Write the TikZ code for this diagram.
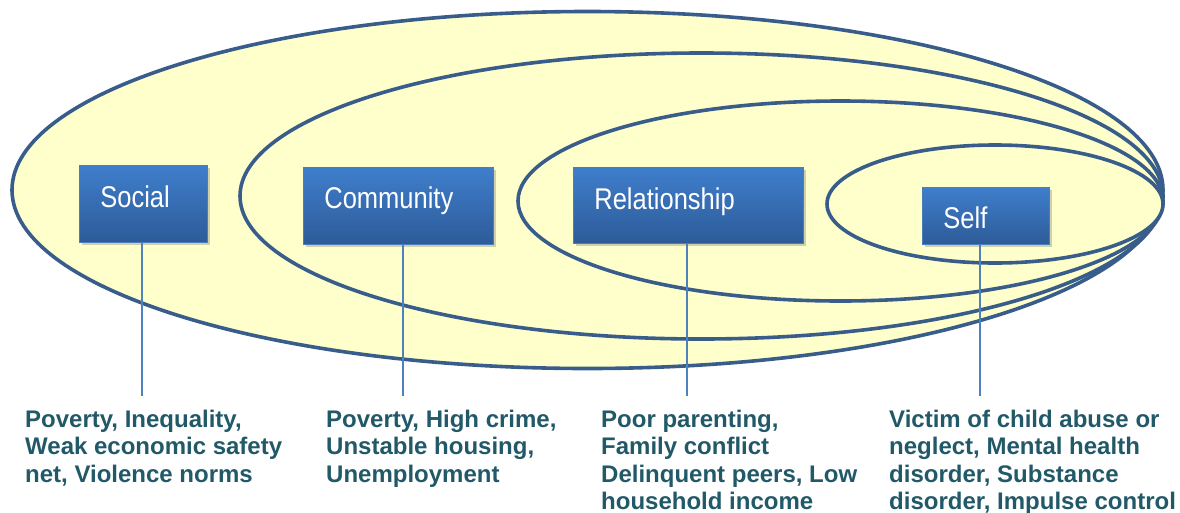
\documentclass[tikz,border=0pt]{standalone}
\usepackage{fontspec}
\setmainfont{Liberation Sans}
\newfontfamily\boxfont[FakeStretch=0.85]{Liberation Sans}
\usetikzlibrary{shadows,calc}
\definecolor{ringline}{HTML}{385D8A}
\definecolor{ringfill}{HTML}{FFFFCC}
\definecolor{boxtop}{HTML}{3F7ECC}
\definecolor{boxbot}{HTML}{2D5B98}
\definecolor{boxedge}{HTML}{4A7EBB}
\definecolor{linkcol}{HTML}{4F81BD}
\definecolor{txtcol}{HTML}{215968}
\tikzset{
  ring/.style={draw=ringline, fill=ringfill, line width=3.6pt},
  levelbox/.style={anchor=north west, draw=boxedge, line width=0.8pt,
    top color=boxtop, bottom color=boxbot, text=white,
    font=\boxfont\fontsize{30}{34}\selectfont,
    inner xsep=21pt, inner ysep=0pt, align=left,
    drop shadow={shadow xshift=2.5pt, shadow yshift=-3pt, opacity=0.3, fill=black!60}},
  link/.style={draw=linkcol, line width=1.5pt},
  factors/.style={anchor=north west, inner sep=0pt, align=left, text=txtcol,
    font=\bfseries\fontsize{24}{27.3}\selectfont}
}
\begin{document}
\begin{tikzpicture}[x=1pt,y=-1pt]
\useasboundingbox (0,0) rectangle (1180,512);
% nested rings
\path[ring] (587.5,190) ellipse [x radius=575.5pt, y radius=178.5pt];
\path[ring] (701.5,196) ellipse [x radius=461.5pt, y radius=143pt];
\path[ring] (840.5,201) ellipse [x radius=322.5pt, y radius=100pt];
\path[ring] (995,204) ellipse [x radius=168pt, y radius=59pt];
% coordinates for connector ends
\coordinate (se) at (142,396);
\coordinate (ce) at (403,396);
\coordinate (re) at (687,396);
\coordinate (fe) at (980,396);
% boxes
\node[levelbox, minimum width=128pt, text width=86pt, text height=42pt, text depth=35pt] (social) at (79,165) {Social};
\node[levelbox, minimum width=190pt, text width=148pt, text height=41pt, text depth=36pt] (community) at (303,167) {Community};
\node[levelbox, minimum width=230pt, text width=188pt, text height=42pt, text depth=34pt] (relationship) at (573,167) {Relationship};
\node[levelbox, minimum width=127pt, text width=85pt, text height=41pt, text depth=16pt] (self) at (922,187) {Self};
% connectors
\draw[link] (se |- social.south) -- (se);
\draw[link] (ce |- community.south) -- (ce);
\draw[link] (re |- relationship.south) -- (re);
\draw[link] (fe |- self.south) -- (fe);
% factor texts
\node[factors] (socialtxt) at (25,410) {Poverty, Inequality,\\Weak economic safety\\net, Violence norms};
\node[factors] (communitytxt) at (326,410) {Poverty, High crime,\\Unstable housing,\\Unemployment};
\node[factors] (relationshiptxt) at (601,410) {Poor parenting,\\Family conflict\\Delinquent peers, Low\\household income};
\node[factors] (selftxt) at (889,410) {Victim of child abuse or\\neglect, Mental health\\disorder, Substance\\disorder, Impulse control};
\end{tikzpicture}
\end{document}
